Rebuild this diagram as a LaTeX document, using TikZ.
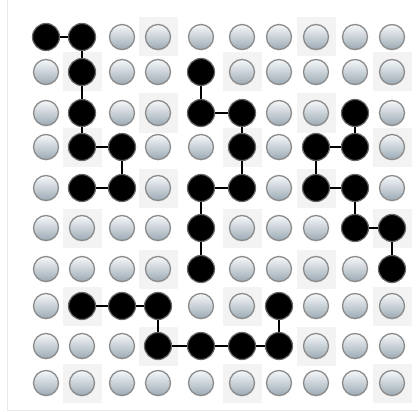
\documentclass[tikz,border=0pt]{standalone}
\usepackage{tikz}
\usetikzlibrary{positioning,shadows}

\definecolor{pegtop}{RGB}{246,248,250}
\definecolor{pegbottom}{RGB}{156,170,180}
\definecolor{pegrim}{RGB}{140,140,140}
\definecolor{cellgray}{RGB}{243,243,243}
\definecolor{framegray}{RGB}{234,234,234}

\tikzset{
  pegoff/.style={circle, minimum size=25pt, inner sep=0pt, draw=pegrim, line width=1.3pt,
    top color=pegtop, bottom color=pegbottom,
    drop shadow={opacity=0.25, shadow xshift=0pt, shadow yshift=-1pt}},
  pegon/.style={circle, minimum size=27pt, inner sep=0pt, fill=black, draw=black!60, line width=1.2pt},
  link/.style={line width=2.6pt, black},
  cell/.style={fill=cellgray}
}

\begin{document}
\begin{tikzpicture}[x=1pt, y=-1pt]
    \useasboundingbox (0,0) rectangle (418,412);
    % Frame
    \draw[framegray, line width=0.8pt] (7,0) -- (7,410) -- (418,410);

    % Black pegs
    \foreach \r/\c in {0/0,0/1,1/1,1/4,2/1,2/4,2/5,2/8,3/1,3/2,3/5,3/7,3/8,
                       4/1,4/2,4/4,4/5,4/7,4/8,5/4,5/8,5/9,6/4,6/9,
                       7/1,7/2,7/3,7/6,8/3,8/4,8/5,8/6}
        {\expandafter\gdef\csname on-\r-\c\endcsname{1}}

    % Board
    \foreach \x [count=\c from 0] in {46,82,122,158,201,242,279,316,355,392} {
        \foreach \y [count=\r from 0] in {37,72,113,147,188,228,269,306,346,383} {
            \pgfmathtruncatemacro\shaded{mod(\c+2*\r,4)==3 ? 1 : 0}
            \ifnum\shaded=1
                \fill[cell] (\x-19.5,\y-19.5) rectangle (\x+19.5,\y+19.5);
            \fi
            \ifcsname on-\r-\c\endcsname
                \node[pegon] (p-\r-\c) at (\x,\y) {};
            \else
                \node[pegoff] (p-\r-\c) at (\x,\y) {};
            \fi
        }
    }

    % Links
    \foreach \a/\b in {0-0/0-1,0-1/1-1,1-1/2-1,2-1/3-1,3-1/3-2,3-2/4-2,4-2/4-1,
                       1-4/2-4,2-4/2-5,2-5/3-5,3-5/4-5,4-5/4-4,4-4/5-4,5-4/6-4,
                       2-8/3-8,3-8/3-7,3-7/4-7,4-7/4-8,4-8/5-8,5-8/5-9,5-9/6-9,
                       7-1/7-2,7-2/7-3,7-3/8-3,8-3/8-4,8-4/8-5,8-5/8-6,8-6/7-6}
        \draw[link] (p-\a) -- (p-\b);
\end{tikzpicture}
\end{document}
